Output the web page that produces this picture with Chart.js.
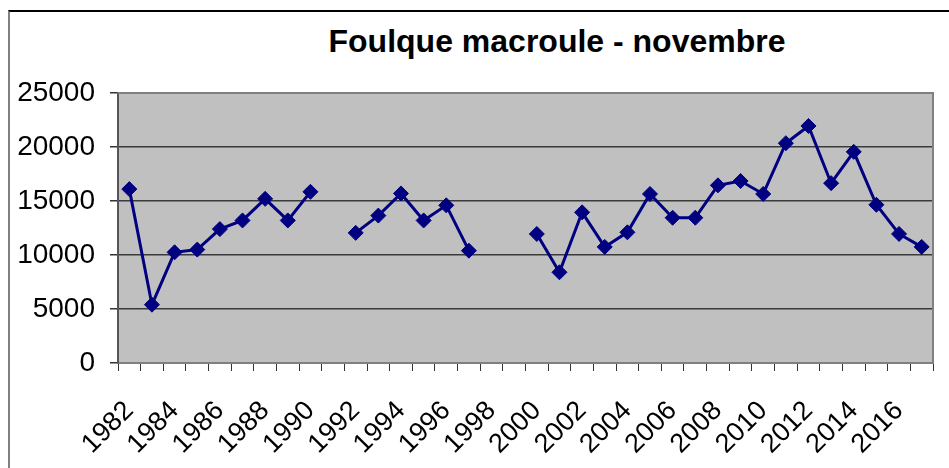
<!DOCTYPE html>
<html>
<head>
<meta charset="utf-8">
<script src="https://cdn.jsdelivr.net/npm/chart.js@4/dist/chart.umd.min.js"></script>
<style>
    html, body { margin: 0; padding: 0; background: #fff; overflow: hidden; }
    #wrap { position: relative; width: 949px; height: 468px; overflow: hidden; }
    #frame {
        position: absolute; left: 8px; top: 10px; width: 2000px; height: 2000px;
        border-left: 2px solid #808080; border-top: 2px solid #000;
    }
    #title {
        position: absolute; left: 557px; top: 25px; transform: translateX(-50%);
        font: bold 32px "Liberation Sans", Arial, sans-serif; line-height: 1;
        white-space: nowrap; color: #000;
    }
    #chart { position: absolute; left: 0; top: 0; }
</style>
</head>
<body>
<div id="wrap">
    <div id="frame"></div>
    <div id="title">Foulque macroule - novembre</div>
    <canvas id="chart" width="949" height="468"></canvas>
</div>
<script>
// Years shown on the category axis
const years = [
    1982, 1983, 1984, 1985, 1986, 1987, 1988, 1989, 1990, 1991,
    1992, 1993, 1994, 1995, 1996, 1997, 1998, 1999, 2000, 2001,
    2002, 2003, 2004, 2005, 2006, 2007, 2008, 2009, 2010, 2011,
    2012, 2013, 2014, 2015, 2016, 2017
];

// November counts (null = no count that year)
const counts = [
    16100, 5400, 10250, 10500, 12400, 13200, 15200, 13200, 15850, null,
    12050, 13650, 15700, 13200, 14600, 10400, null, null, 11950, 8400,
    13950, 10750, 12100, 15650, 13450, 13450, 16450, 16850, 15650, 20350,
    21950, 16650, 19550, 14650, 11950, 10750
];

const yTicks = [0, 5000, 10000, 15000, 20000, 25000];

const plotFrame = {
    id: 'plotFrame',
    beforeDraw(chart) {
        const { ctx, chartArea: a } = chart;
        ctx.save();
        ctx.fillStyle = '#c0c0c0';
        ctx.fillRect(a.left, a.top, a.right - a.left, a.bottom - a.top);
        ctx.restore();
    },
    afterDatasetsDraw(chart) {
        const { ctx, chartArea: a } = chart;
        ctx.save();
        ctx.strokeStyle = '#808080';
        ctx.lineWidth = 2;
        ctx.beginPath();
        ctx.moveTo(a.left, a.top);
        ctx.lineTo(a.right, a.top);
        ctx.lineTo(a.right, a.bottom);
        ctx.stroke();
        ctx.restore();
    }
};

const ctx = document.getElementById('chart').getContext('2d');
new Chart(ctx, {
    type: 'line',
    data: {
        labels: years.map(String),
        datasets: [{
            data: counts,
            borderColor: '#000080',
            backgroundColor: '#000080',
            borderWidth: 3,
            pointStyle: 'rectRot',
            pointRadius: 7.5,
            pointBorderWidth: 1,
            pointBorderColor: '#000080',
            pointBackgroundColor: '#000080',
            spanGaps: false,
            tension: 0
        }]
    },
    options: {
        responsive: false,
        animation: false,
        devicePixelRatio: 1,
        layout: { padding: { top: 93, right: 16, left: 0, bottom: 0 } },
        plugins: {
            legend: { display: false },
            title: { display: false },
            tooltip: { enabled: false }
        },
        scales: {
            x: {
                offset: true,
                grid: {
                    offset: true,
                    drawOnChartArea: false,
                    drawTicks: true,
                    tickLength: 8,
                    tickColor: '#333',
                    tickWidth: 1
                },
                border: { display: true, color: '#808080', width: 2 },
                ticks: {
                    autoSkip: false,
                    minRotation: 45,
                    maxRotation: 45,
                    padding: 24,
                    color: '#000',
                    font: { family: '"Liberation Sans", Arial, sans-serif', size: 27 },
                    callback: function (value, index) {
                        return index % 2 === 0 ? this.getLabelForValue(value) : '';
                    }
                },
                afterFit(scale) {
                    scale.height = 105;
                    scale.paddingLeft = 0;
                    scale.paddingRight = 0;
                }
            },
            y: {
                min: 0,
                max: 25000,
                afterBuildTicks(scale) { scale.ticks = yTicks.map(v => ({ value: v })); },
                grid: {
                    color: '#3a3a3a',
                    lineWidth: 1.5,
                    tickLength: 8,
                    tickColor: '#333'
                },
                border: { display: true, color: '#555', width: 2 },
                ticks: {
                    padding: 15,
                    color: '#000',
                    font: { family: '"Liberation Sans", Arial, sans-serif', size: 28 },
                    callback: value => String(value)
                },
                afterFit(scale) { scale.width = 118; }
            }
        }
    },
    plugins: [plotFrame]
});
</script>
</body>
</html>
